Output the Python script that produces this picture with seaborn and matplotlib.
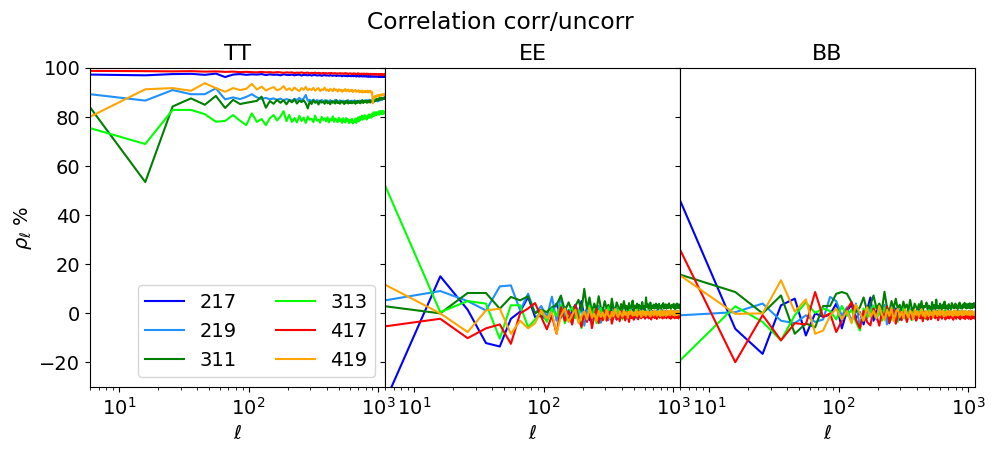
import numpy as np
import pandas as pd
import matplotlib
matplotlib.use("Agg")
import matplotlib.pyplot as plt
import seaborn as sns

# multipole bin centres (bin width 10, starting at 6)
ell = np.arange(6, 1127, 10)

freqs = ["217", "219", "311", "313", "417", "419"]
colors = ["#0000ff", "#1e90ff", "#008000", "#00ff00", "#ff0000", "#ffa500"]
spectra = ["TT", "EE", "BB"]

# ---------------- TT ----------------
tt_217 = [97.3, 97.0, 97.5, 97.6, 97.2, 97.7, 96.3, 97.3, 97.5, 97.2,
          97.4, 97.3, 97.5, 97.1, 97.4, 97.2, 97.3, 97.0, 97.4, 97.2,
          97.1, 97.3, 97.0, 97.2, 97.3, 96.9, 97.2, 97.1, 97.0, 97.2,
          96.9, 97.1, 97.2, 96.9, 97.0, 97.1, 96.8, 97.0, 97.1, 96.9,
          97.0, 96.8, 97.1, 96.9, 96.8, 97.0, 96.9, 96.7, 97.0, 96.8,
          96.9, 96.8, 96.6, 96.9, 96.8, 96.7, 96.9, 96.6, 96.8, 96.7,
          96.8, 96.6, 96.9, 96.7, 96.6, 96.8, 96.7, 96.5, 96.8, 96.6,
          96.7, 96.5, 96.8, 96.6, 96.7, 96.5, 96.6, 96.8, 96.5, 96.6,
          96.7, 96.5, 96.6, 96.4, 96.7, 96.5, 96.6, 96.4, 96.6, 96.5,
          96.6, 96.4, 96.5, 96.6, 96.4, 96.5, 96.6, 96.4, 96.5, 96.5,
          96.3, 96.6, 96.4, 96.5, 96.3, 96.6, 96.4, 96.5, 96.3, 96.4,
          96.6, 96.4, 96.5]
tt_219 = [89.3, 86.7, 91.0, 89.3, 89.3, 91.7, 87.2, 88.0, 87.3, 88.2,
          89.3, 88.0, 87.4, 87.8, 87.2, 87.6, 87.0, 87.5, 86.8, 87.3,
          87.0, 86.7, 87.4, 86.9, 87.8, 86.9, 87.6, 89.0, 86.6, 87.0,
          86.5, 87.1, 86.3, 86.9, 86.6, 85.9, 87.0, 86.4, 86.8, 86.2,
          86.7, 86.1, 86.9, 86.3, 86.5, 86.0, 87.0, 86.2, 86.6, 85.9,
          86.8, 86.3, 86.0, 86.7, 86.4, 85.8, 86.6, 86.2, 86.9, 86.1,
          86.5, 85.9, 86.7, 86.3, 86.0, 86.8, 86.2, 86.5, 85.8, 86.6,
          86.3, 86.7, 86.0, 86.4, 86.9, 86.1, 86.5, 86.3, 86.8, 86.2,
          86.6, 86.9, 86.3, 86.7, 86.4, 87.0, 86.5, 86.8, 86.2, 86.6,
          86.4, 86.9, 86.3, 86.7, 86.5, 87.0, 86.6, 86.8, 86.4, 87.1,
          86.7, 87.0, 86.8, 87.3, 86.9, 87.2, 87.5, 87.1, 87.6, 87.4,
          87.8, 88.0, 88.3]
tt_311 = [84.0, 53.5, 84.3, 87.6, 85.0, 88.6, 83.7, 87.0, 85.3, 85.8,
          86.2, 86.6, 88.3, 83.8, 86.5, 85.4, 87.0, 85.8, 86.8, 85.2,
          86.9, 86.0, 87.2, 85.5, 86.7, 86.1, 86.8, 85.6, 83.5, 86.4,
          85.3, 86.9, 85.8, 86.3, 85.1, 86.7, 85.9, 86.2, 85.4, 86.8,
          85.6, 86.1, 85.2, 86.5, 85.8, 86.3, 85.5, 86.9, 85.7, 86.0,
          85.4, 86.6, 85.9, 86.2, 85.3, 86.4, 85.8, 86.7, 85.5, 86.1,
          85.7, 86.4, 85.6, 86.0, 85.9, 86.5, 85.4, 86.2, 85.8, 86.6,
          85.9, 86.3, 85.6, 86.5, 86.0, 86.8, 85.7, 86.4, 86.1, 86.7,
          86.2, 85.8, 86.5, 86.0, 86.7, 86.3, 85.9, 86.6, 86.1, 86.8,
          86.4, 86.9, 86.3, 87.0, 86.6, 87.2, 86.7, 87.3, 86.9, 87.5,
          87.1, 87.6, 86.9, 87.8, 87.3, 87.5, 87.9, 87.2, 87.6, 87.8,
          87.4, 88.0, 87.7]
tt_313 = [75.5, 69.0, 82.9, 82.9, 81.2, 78.1, 78.4, 80.8, 78.5, 76.7,
          81.5, 78.0, 79.2, 76.7, 79.5, 80.8, 78.6, 80.2, 82.4, 78.3,
          80.9, 78.0, 79.6, 77.8, 80.5, 78.4, 79.8, 77.6, 80.2, 78.9,
          79.3, 77.9, 80.6, 78.5, 79.0, 77.7, 80.1, 78.8, 79.5, 78.2,
          79.9, 77.8, 79.2, 78.6, 80.3, 78.0, 79.4, 78.9, 77.9, 79.7,
          78.3, 79.1, 77.6, 79.5, 78.4, 77.8, 79.6, 78.2, 79.0, 77.5,
          78.8, 77.9, 79.3, 77.4, 78.6, 78.0, 79.4, 77.6, 78.9, 79.8,
          78.2, 80.1, 78.7, 79.5, 80.6, 78.9, 80.0, 79.3, 80.8, 79.4,
          80.2, 79.0, 80.5, 79.6, 81.1, 79.8, 80.4, 80.9, 79.7, 81.3,
          80.6, 81.8, 80.4, 82.0, 81.2, 80.7, 81.9, 81.0, 81.6, 81.2,
          82.3, 80.9, 81.7, 82.5, 81.4, 82.0, 81.1, 82.6, 81.8, 81.3,
          82.2, 81.6, 82.0]
tt_417 = [98.8, 98.7, 98.6, 98.7, 98.5, 98.6, 98.4, 98.5, 98.3, 98.4,
          98.3, 98.2, 98.4, 98.2, 98.3, 98.1, 98.3, 98.2, 98.0, 98.2,
          98.1, 98.2, 97.9, 98.1, 98.0, 98.2, 97.9, 98.0, 98.1, 97.8,
          98.0, 97.9, 98.1, 97.8, 98.0, 97.9, 97.7, 98.0, 97.8, 97.9,
          97.7, 97.9, 97.8, 98.0, 97.7, 97.8, 97.9, 97.6, 97.8, 97.7,
          97.9, 97.6, 97.8, 97.7, 97.6, 97.9, 97.7, 97.8, 97.5, 97.7,
          97.8, 97.6, 97.7, 97.5, 97.8, 97.6, 97.7, 97.5, 97.6, 97.8,
          97.5, 97.7, 97.6, 97.4, 97.7, 97.5, 97.6, 97.7, 97.4, 97.6,
          97.5, 97.7, 97.4, 97.6, 97.5, 97.3, 97.6, 97.5, 97.4, 97.6,
          97.4, 97.5, 97.3, 97.6, 97.4, 97.5, 97.3, 97.5, 97.4, 97.4,
          97.3, 97.5, 97.3, 97.4, 97.2, 97.5, 97.3, 97.4, 97.2, 97.4,
          97.3, 97.2, 97.4]
tt_419 = [80.1, 91.3, 91.8, 90.7, 93.8, 91.8, 90.3, 91.8, 91.0, 91.5,
          93.5, 91.2, 92.4, 90.8, 91.6, 92.2, 90.9, 91.4, 92.6, 91.0,
          91.7, 90.8, 92.0, 91.2, 90.6, 91.8, 91.1, 92.3, 90.9, 91.5,
          91.0, 91.9, 90.7, 91.4, 91.8, 90.6, 91.3, 91.0, 92.0, 90.8,
          91.2, 90.6, 91.5, 91.0, 90.5, 91.6, 90.9, 91.2, 90.4, 91.3,
          90.8, 91.1, 90.3, 91.0, 90.7, 91.4, 90.5, 90.9, 91.2, 90.4,
          90.9, 90.6, 91.1, 90.2, 90.8, 90.5, 91.0, 90.3, 90.7, 90.4,
          90.9, 90.1, 90.6, 90.3, 90.8, 90.0, 90.5, 90.2, 90.7, 90.1,
          90.6, 90.2, 90.8, 90.0, 90.5, 90.3, 90.7, 89.9, 90.4, 90.1,
          85.6, 87.2, 88.0, 88.4, 88.1, 88.6, 88.3, 88.8, 88.5, 88.9,
          88.6, 89.0, 88.7, 89.1, 88.8, 89.2, 88.9, 89.1, 89.3, 88.9,
          89.2, 89.0, 89.3]

# ---------------- EE ----------------
ee_217 = [-36.0, 15.1, 1.5, -12.1, -13.5, -2.2, 0.7, 6.7, -1.5, -1.0,
          -2.5, 0.8, 4.0, -1.8, 2.5, -3.0, 1.2, 3.5, -0.5, 5.0,
          -1.5, 2.0, -2.8, 1.0, 3.0, -2.0, 0.5, -3.5, 2.2, -0.8,
          1.5, -2.2, 0.3, 2.8, -1.6, 0.8, -2.5, 1.8, -0.4, -1.8,
          1.2, -0.6, 2.0, -1.5, 0.4, -2.0, 1.0, -0.9, 1.6, -1.2,
          0.2, -1.8, 1.3, -0.5, 0.9, -1.6, 0.6, -1.0, 1.4, -0.7,
          0.3, -1.4, 0.8, -0.3, -1.9, 1.1, -0.6, 0.5, -1.3, 0.9,
          -0.8, 0.4, -1.5, 1.0, -0.2, -1.1, 0.7, -0.9, 0.3, -1.4,
          0.6, -0.5, 1.2, -1.0, 0.1, -1.6, 0.8, -0.4, 0.5, -1.2,
          0.9, -0.7, 0.2, -1.3, 0.6, -0.3, 1.0, -0.8, 0.4, -0.6,
          0.8, -1.1, 0.3, -0.4, 0.9, -0.9, 0.2, 0.6, -1.0, 0.4,
          -0.5, 0.7, -0.2]
ee_219 = [5.3, 9.1, 5.0, 1.2, 11.0, 11.4, 1.2, 8.0, 0.0, 3.0,
          -1.5, 6.8, -3.0, 7.2, -2.0, 1.5, -4.5, 3.0, -1.0, 2.5,
          -5.0, 1.0, 4.0, -2.5, 0.5, -1.5, 3.0, -3.8, 1.8, -0.5,
          2.2, -2.8, 0.6, -1.2, 2.6, -0.3, -2.0, 1.4, -0.8, 0.9,
          -1.6, 1.8, -0.4, -2.2, 0.7, 1.2, -1.0, 0.3, -1.8, 1.0,
          -0.6, 0.8, -1.5, 1.3, -0.2, -1.2, 0.9, -0.7, 0.4, -1.4,
          1.1, -0.5, 0.2, -1.6, 0.8, -0.3, 1.0, -1.1, 0.5, -0.8,
          0.6, -1.3, 0.3, -0.5, 1.2, -0.9, 0.1, -1.2, 0.7, -0.4,
          0.2, -1.0, 0.9, -0.6, 0.4, -1.3, 0.6, -0.2, -0.9, 0.8,
          -0.5, 0.3, -1.1, 0.7, -0.4, 0.5, -0.9, 0.2, -0.6, 0.4,
          -1.0, 0.8, -0.3, 0.6, -0.8, 0.2, -0.5, 1.0, -0.7, 0.3,
          -0.4, 0.6, -0.9]
ee_311 = [2.9, 0.0, 8.3, 8.3, 1.9, 6.7, 5.3, 7.0, 0.0, 1.5,
          0.5, 2.5, 3.5, 7.2, 1.0, 4.5, 0.8, 3.0, 5.5, 1.2,
          10.0, 2.0, 6.5, 0.5, 4.0, 1.5, 7.0, 2.5, 0.8, 5.0,
          2.0, 3.5, 0.6, 6.0, 2.2, 1.0, 4.5, 2.8, 0.5, 3.8,
          1.5, 5.0, 2.0, 3.0, 0.8, 4.2, 1.8, 2.6, 5.2, 1.2,
          3.2, 2.0, 4.0, 0.9, 3.5, 2.4, 1.6, 4.6, 2.2, 3.0,
          1.4, 6.5, 2.6, 3.8, 1.8, 2.9, 4.4, 1.7, 3.1, 2.3,
          3.6, 1.9, 2.8, 4.0, 2.1, 3.3, 1.6, 3.9, 2.5, 3.0,
          1.8, 3.4, 2.7, 4.2, 2.0, 3.1, 2.4, 3.7, 1.9, 2.8,
          3.5, 2.2, 4.1, 2.6, 3.0, 1.8, 3.4, 2.5, 3.2, 2.4,
          3.9, 2.1, 3.3, 1.7, 3.6, 2.8, 4.0, 2.2, 3.1, 2.6,
          3.7, 2.0, 3.3]
ee_313 = [52.2, 0.5, 5.0, 4.0, -10.3, 3.3, 3.3, -5.6, -2.5, 1.0,
          -3.5, 2.0, -1.0, 3.5, -4.0, 0.5, 2.5, -2.0, 1.5, -6.0,
          0.8, -2.5, 3.0, -1.2, 1.8, -4.0, 0.2, 2.2, -2.8, 1.0,
          -1.5, 2.5, -0.5, -3.2, 1.2, 0.0, -2.0, 1.6, -0.8, 0.6,
          -2.4, 1.4, -0.6, 0.9, -1.8, 0.3, 1.5, -1.2, 0.1, -2.0,
          0.7, -0.9, 1.6, -1.4, 0.4, -0.3, -1.9, 1.0, -0.5, 0.6,
          -1.2, 0.8, -0.4, 1.3, -1.6, 0.2, -0.8, 0.9, -1.0, 0.4,
          -0.6, 1.1, -1.3, 0.3, -0.2, 0.8, -1.5, 0.5, -0.7, 1.0,
          -0.9, 0.4, -0.3, 0.9, -1.4, 0.2, 0.6, -0.8, 0.3, -1.1,
          0.7, -0.4, 0.1, -1.2, 0.5, -0.6, 0.8, -0.9, -1.6, 0.6,
          -0.7, 0.4, -1.3, 0.2, 0.9, -0.5, -1.1, 0.3, -0.6, 0.8,
          -1.0, 0.1, -0.8]
ee_417 = [-5.3, -2.2, -10.1, -6.1, -4.5, -12.4, 0.0, 2.0, 4.2, -1.5,
          -6.5, -1.0, -8.3, 2.5, -3.0, 1.0, -4.5, 3.3, -2.0, -5.5,
          0.5, -3.5, 1.5, -6.0, -1.0, 2.0, -4.0, -0.5, -2.8, 1.2,
          -3.0, -0.8, 0.8, -4.2, -1.5, 0.5, -2.5, -0.2, -3.2, 0.9,
          -1.8, -0.4, -2.9, 0.6, -1.2, -3.5, 0.2, -1.9, -0.6, -2.6,
          0.4, -1.5, -0.3, -2.4, 0.8, -1.0, -2.0, -0.2, -1.6, 0.3,
          -2.2, -0.7, -1.3, 0.5, -2.0, -0.4, -1.1, -2.5, 0.1, -1.4,
          -0.6, -1.9, 0.2, -1.2, -2.3, -0.5, -1.0, 0.4, -1.8, -0.8,
          -1.5, -0.2, -2.1, -0.9, 0.3, -1.7, -0.6, -1.2, -2.0, -0.4,
          -1.3, 0.2, -1.8, -0.7, -1.1, -2.2, -0.3, -1.5, -0.9, -1.7,
          -0.5, -1.0, -2.0, 0.1, -1.4, -0.8, -1.9, -0.3, -1.2, -2.1,
          -0.6, -1.4, -1.0]
ee_419 = [11.7, 0.0, -7.6, 1.2, 1.9, -8.3, -3.0, -6.1, -4.0, 1.2,
          -2.0, 0.5, -8.3, -1.0, 2.0, -3.5, -0.5, 1.5, -4.0, -1.2,
          0.8, -2.5, 2.2, -1.8, -0.2, -3.0, 1.0, -1.5, 0.3, -2.2,
          1.4, -0.8, -2.0, 0.6, -1.2, 1.8, -0.5, -1.6, 0.9, -0.3,
          -1.4, 1.2, -0.6, 0.4, -1.8, 0.7, -0.2, 1.0, -1.0, 0.2,
          -0.7, 1.3, -1.2, 0.5, -0.4, 0.9, -1.5, 0.3, 1.1, -0.8,
          0.6, -1.1, 0.2, 1.0, -0.6, 0.4, -1.3, 0.8, -0.2, 0.5,
          -0.9, 1.2, -0.3, 0.7, -1.0, 0.2, 0.9, -0.6, 0.4, -1.2,
          1.0, -0.4, 0.6, -0.9, 1.3, -0.2, 0.5, -1.1, 0.8, 0.0,
          -0.7, 1.1, -0.3, 0.6, -0.8, 1.2, -0.1, 0.4, -0.5, 0.9,
          -0.6, 0.3, -0.9, 1.1, -0.2, 0.5, -0.7, 0.8, -0.4, 0.2,
          1.0, -0.5, 0.3]

# ---------------- BB ----------------
bb_217 = [46.1, -6.3, -16.5, 3.3, 6.0, -9.0, 0.0, -1.4, -0.5, 4.0,
          -6.1, 1.0, 3.5, -2.0, 0.5, -4.5, 1.5, 6.5, -3.0, 0.8,
          2.5, -2.2, -0.5, 3.0, -4.0, 1.2, -1.5, 2.0, -0.3, -2.6,
          1.8, -0.9, 0.4, -3.0, 1.5, -1.2, 2.2, -0.6, -1.8, 0.9,
          -0.4, 1.6, -2.0, 0.3, 1.2, -1.0, 0.6, -1.6, 0.8, -0.2,
          1.4, -1.2, 0.2, -0.8, 1.7, -0.5, -1.4, 0.9, -0.3, 0.6,
          -1.1, 0.4, 1.2, -0.7, 0.1, -1.5, 0.8, -0.4, 0.5, -0.9,
          0.3, 1.0, -0.6, -1.2, 0.7, -0.2, 0.4, -1.0, 0.9, -0.5,
          0.2, -0.8, 1.1, -0.3, 0.5, -1.2, 0.6, -0.1, -0.7, 0.8,
          -0.4, 0.3, -1.0, 0.7, -0.2, 0.5, -0.8, 0.1, 0.4, -0.6,
          0.8, -0.3, 0.5, -1.0, 0.2, 0.7, -0.5, 0.3, -0.8, 0.6,
          -0.2, 0.4, -0.6]
bb_219 = [-0.8, 0.5, 4.0, -3.0, -4.0, -0.8, -3.5, -2.5, 6.7, 5.0,
          -1.0, 2.5, -3.5, 4.0, -5.5, 1.0, -2.0, 3.0, 0.0, -2.5,
          2.0, -1.0, 3.5, -4.5, 0.5, -1.5, 2.8, -0.5, -3.0, 1.5,
          -0.8, 2.2, -2.0, 0.3, 1.5, -1.6, 0.8, -2.4, 1.0, -0.3,
          1.8, -1.2, 0.4, -0.9, 2.0, -0.5, -1.8, 0.9, -0.2, 1.2,
          -1.0, 0.6, -0.4, 1.5, -1.6, 0.3, 0.9, -0.8, 1.3, -0.5,
          0.4, -1.2, 1.0, -0.2, 0.7, -0.9, 1.4, -0.4, 0.2, -1.0,
          0.8, -0.3, 1.1, -0.7, 0.5, -1.1, 0.6, 0.2, -0.6, 0.9,
          -0.2, 0.7, -0.9, 1.2, -0.4, 0.3, 0.8, -0.6, 0.5, -0.3,
          1.0, -0.5, 0.4, -0.8, 0.9, 0.1, -0.4, 0.6, 0.2, -0.5,
          0.7, -0.2, 0.9, -0.7, 0.4, -0.3, 0.8, -0.6, 0.5, 0.1,
          -0.8, 0.6, -0.2]
bb_311 = [15.8, 8.7, 0.0, 7.3, -8.3, -4.1, -5.7, 3.0, 3.0, 8.0,
          8.7, 8.0, 4.5, 0.6, 2.5, 6.5, 1.0, 3.5, 7.3, 2.0,
          4.0, 1.5, 8.8, 2.5, 0.5, 5.0, 2.0, 6.0, 1.8, 3.5,
          0.9, 4.8, 2.2, 3.6, 1.0, 5.5, 2.4, 0.8, 4.0, 2.6,
          1.5, 3.8, 2.0, 5.0, 1.2, 3.0, 2.6, 4.4, 1.6, 3.2,
          2.4, 0.9, 4.6, 2.0, 3.4, 1.5, 5.6, 2.2, 3.0, 1.8,
          4.0, 2.5, 1.4, 3.6, 2.2, 4.8, 1.9, 3.2, 2.6, 1.6,
          3.8, 2.3, 3.0, 1.7, 4.2, 2.4, 3.3, 2.0, 2.8, 4.0,
          2.2, 3.4, 1.8, 3.0, 2.6, 4.4, 2.1, 3.2, 2.7, 1.9,
          3.6, 2.4, 3.1, 4.3, 2.3, 3.5, 2.0, 3.8, 2.9, 2.2,
          3.7, 2.5, 4.1, 2.0, 3.3, 2.7, 3.9, 2.1, 3.4, 2.8,
          4.2, 2.4, 3.0]
bb_313 = [-19.2, 2.9, -3.5, -11.0, -0.8, 4.5, 0.2, 2.0, 1.0, -2.5,
          3.0, -1.0, 1.5, -3.5, -7.0, 2.0, -1.5, 0.5, 3.2, -2.0,
          0.8, -3.0, 2.4, -1.2, 0.3, -2.6, 1.6, -0.5, -3.4, 1.0,
          -1.0, 2.0, -2.2, 0.4, -0.8, 1.5, -2.8, 0.6, -1.4, 0.9,
          -2.0, 0.3, 1.2, -1.5, -0.2, 0.8, -2.3, 0.5, -0.9, 1.4,
          -1.2, 0.2, -1.8, 0.9, -0.5, -1.4, 0.7, -0.3, 1.0, -1.6,
          0.4, -0.8, 0.9, -1.3, 0.1, -0.6, 1.2, -1.0, 0.3, -0.4,
          -1.5, 0.6, -0.2, 0.8, -1.1, 0.2, -0.7, 1.0, -0.5, -1.2,
          0.5, -0.3, -1.0, 0.7, -0.6, 0.3, -1.4, 0.6, -0.2, 0.9,
          -0.8, 0.2, -1.1, 0.5, -0.4, 0.8, -0.9, 0.3, -0.6, 0.5,
          -1.0, 0.2, -0.7, 0.6, -1.2, 0.3, -0.4, 0.7, -0.9, 0.1,
          -0.6, 0.4, -0.8]
bb_417 = [26.0, -19.9, -0.7, -11.0, -4.0, -4.5, 8.7, -1.5, 0.0, -7.6,
          -3.0, 1.5, 4.6, -2.5, -6.0, 1.0, -3.5, -4.9, 2.0, -1.0,
          -5.0, 0.5, -2.2, 2.8, -3.8, -0.6, 1.5, -4.2, -1.0, 0.8,
          -2.8, -0.4, 1.2, -3.5, -1.2, 0.5, -2.4, -0.8, 1.0, -3.0,
          -1.5, 0.3, -2.0, -0.6, -3.2, 0.6, -1.8, -0.4, -2.6, 0.2,
          -1.1, -2.4, 0.4, -1.6, -0.5, -2.0, 0.7, -1.3, -2.8, -0.2,
          -1.6, 0.3, -2.2, -0.8, -1.4, 0.5, -2.5, -1.0, -0.3, -1.9,
          -0.6, -2.1, 0.4, -1.2, -1.8, -0.4, -2.6, 0.1, -1.5, -0.9,
          -2.2, -0.5, -1.3, 0.3, -1.9, -0.8, -2.4, -0.2, -1.6, -1.0,
          -0.4, -2.0, -1.2, -0.6, -2.3, -0.9, -1.5, -0.3, -1.8, -1.1,
          -2.2, -0.5, -1.6, -0.9, -2.4, -0.7, -1.3, -2.0, -0.4, -1.7,
          -1.1, -2.1, -0.8]
bb_419 = [15.5, -0.2, 0.0, 13.5, 0.7, 5.7, -8.3, -7.0, -1.0, 2.0,
          -2.5, 1.0, -4.0, 3.5, 0.0, -3.0, 2.5, -1.5, 1.0, -2.0,
          3.0, -0.5, -2.8, 1.5, -1.0, 2.2, -3.2, 0.4, 1.8, -1.5,
          0.6, -2.0, 1.6, -0.4, -1.8, 1.2, 0.0, -2.4, 1.4, -0.6,
          0.9, -1.4, 0.3, 1.7, -1.0, 0.5, -1.6, 1.1, -0.2, -1.2,
          1.0, -0.6, 0.4, -1.5, 1.3, -0.3, 0.8, -1.1, 0.2, 1.4,
          -0.9, 0.5, -0.2, 1.2, -1.3, 0.6, 0.0, -1.0, 1.1, -0.4,
          0.7, -0.8, 1.0, -0.3, 0.4, -1.2, 0.9, 0.1, -0.7, 1.2,
          -0.5, 0.6, -1.0, 0.8, 0.2, -0.6, 1.1, -0.2, 0.5, -0.9,
          0.9, 0.0, -0.7, 1.0, -0.3, 0.6, -0.5, 0.8, 0.2, -0.6,
          0.7, -0.2, 1.0, -0.8, 0.4, -0.3, 0.9, -0.5, 0.6, 0.0,
          -0.7, 0.8, 0.2]

series = {
    "TT": [tt_217, tt_219, tt_311, tt_313, tt_417, tt_419],
    "EE": [ee_217, ee_219, ee_311, ee_313, ee_417, ee_419],
    "BB": [bb_217, bb_219, bb_311, bb_313, bb_417, bb_419],
}

rows = []
for spec in spectra:
    for f, vals in zip(freqs, series[spec]):
        n = min(len(vals), len(ell))
        for i in range(n):
            rows.append((spec, f, ell[i], vals[i]))
df = pd.DataFrame(rows, columns=["spec", "freq", "ell", "rho"])

plt.rcParams["font.family"] = ["DejaVu Sans"]
plt.rcParams["xtick.labelsize"] = 14
plt.rcParams["ytick.labelsize"] = 14

fig, axes = plt.subplots(1, 3, figsize=(10, 4.5), dpi=100, sharey=True)
fig.subplots_adjust(left=0.09, right=0.975, top=0.849, bottom=0.14, wspace=0)

palette = dict(zip(freqs, colors))
for i, (ax, spec) in enumerate(zip(axes, spectra)):
    sub = df[df["spec"] == spec]
    sns.lineplot(data=sub, x="ell", y="rho", hue="freq", hue_order=freqs,
                 palette=palette, estimator=None, sort=False, linewidth=1.5,
                 ax=ax, legend=(i == 0))
    ax.set_xscale("log")
    ax.set_xlim(ell[0], ell[-1])
    ax.set_ylim(-30, 100)
    ax.set_yticks([-20, 0, 20, 40, 60, 80, 100])
    ax.set_title(spec, fontsize=16)
    ax.set_xlabel(r"$\ell$", fontsize=14)
    ax.set_ylabel("")

axes[0].set_ylabel(r"$\rho_\ell$ %", fontsize=14)
sns.move_legend(axes[0], "lower right", ncol=2, title=None, fontsize=14)

fig.suptitle("Correlation corr/uncorr", fontsize=16.8, y=0.975)
fig.savefig("out.png", dpi=100)
